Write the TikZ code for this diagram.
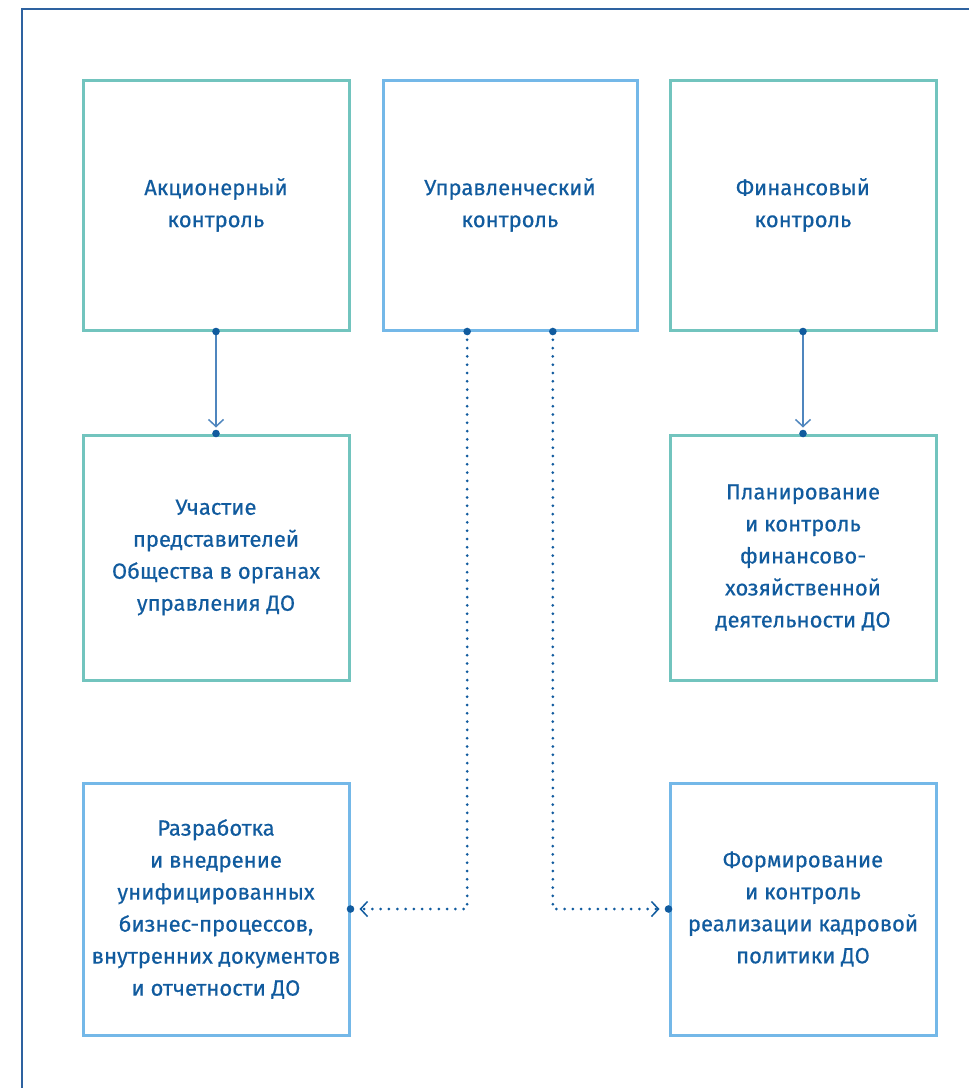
\documentclass[tikz,border=0pt]{standalone}
\usepackage{fontspec}
\setmainfont{Fira Sans}[FakeBold=0.5, UprightFeatures={FakeBold=0.5}]
\usetikzlibrary{arrows.meta, positioning, calc}
\definecolor{frameblue}{HTML}{2E62A0}
\definecolor{tealline}{HTML}{72C4BE}
\definecolor{skyline}{HTML}{74B8E8}
\definecolor{textblue}{HTML}{115B9E}
\definecolor{arrowblue}{HTML}{4F86BE}
\begin{document}
\begin{tikzpicture}[x=1pt, y=-1pt,
	tealbox/.style={draw=tealline, line width=3pt, minimum width=266pt, align=center, text=textblue, font=\fontsize{22}{32}\selectfont},
	skybox/.style={tealbox, draw=skyline},
	pin/.style={fill=textblue},
	feed/.style={arrowblue, line width=1.8pt, -{Straight Barb[length=7pt, width=15pt, line width=1.5pt]}, shorten >=6pt},
	dots/.style={textblue, line width=3pt, line cap=round, dash pattern=on 0pt off 8.3pt, -{Straight Barb[length=7pt, width=15pt, line width=1.5pt]}, shorten >=9pt}]
				\useasboundingbox (0,0) rectangle (969,1088);
				\draw[frameblue, line width=1.5pt] (22,1088) -- (22,9) -- (969,9);

				\node[tealbox, minimum height=250pt] (share) at (216,205) {Акционерный\\контроль};
				\node[skybox, minimum width=254pt, minimum height=250pt] (manage) at (510,205) {Управленческий\\контроль};
				\node[tealbox, minimum height=250pt] (finance) at (803,205) {Финансовый\\контроль};

				\node[tealbox, minimum height=245pt] (board) at (216,557.5) {Участие\\представителей\\Общества в органах\\управления ДО};
				\node[tealbox, minimum height=245pt] (plan) at (803,557.5) {Планирование\\и контроль\\финансово-\\хозяйственной\\деятельности ДО};

				\node[skybox, minimum height=252pt] (process) at (216,909) {Разработка\\и внедрение\\унифицированных\\бизнес-процессов,\\внутренних документов\\и отчетности ДО};
				\node[skybox, minimum height=252pt] (staff) at (803,909) {Формирование\\и контроль\\реализации кадровой\\политики ДО};

				\coordinate (m1) at ($(manage.south west)!1/3!(manage.south east)$);
				\coordinate (m2) at ($(manage.south west)!2/3!(manage.south east)$);

				\draw[feed] (share.south) -- (board.north);
				\draw[feed] (finance.south) -- (plan.north);
				\draw[dots] (m1) |- (process.east);
				\draw[dots] (m2) |- (staff.west);

				\foreach \p in {share.south, board.north, finance.south, plan.north, m1, m2, process.east, staff.west}
					\fill[pin] (\p) circle (3.8pt);
			\end{tikzpicture}
\end{document}
